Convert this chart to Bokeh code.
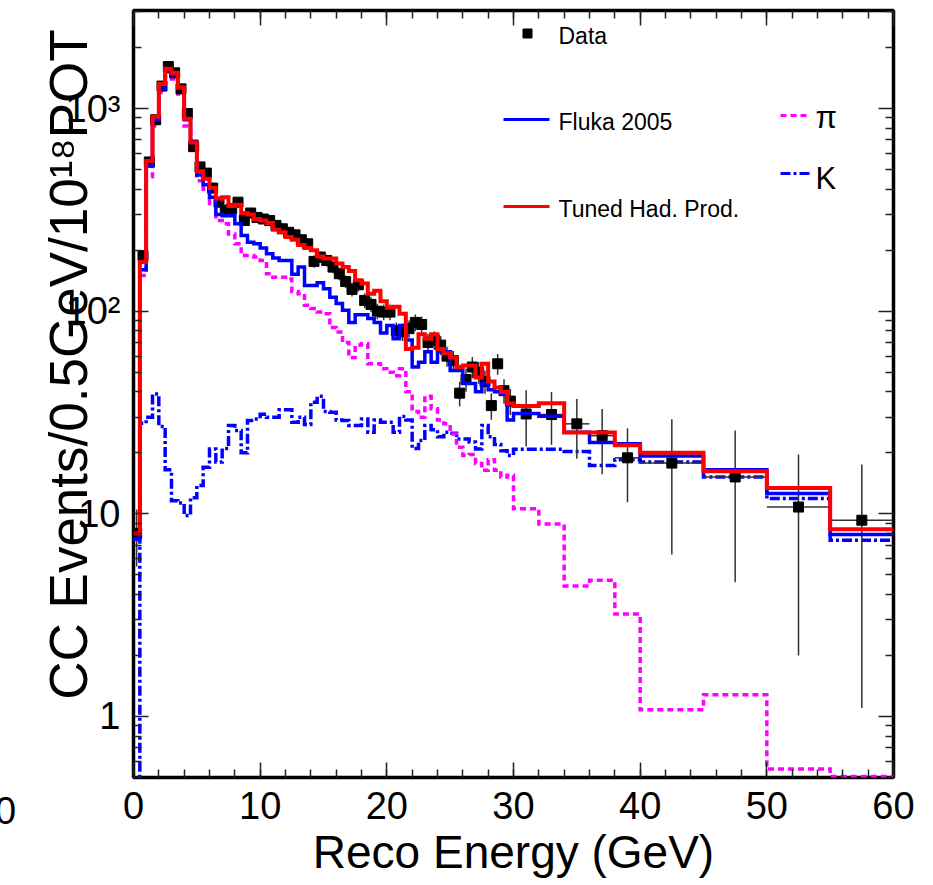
import numpy as np
from bokeh.plotting import figure
from bokeh.models import (LinearAxis, LogAxis, FixedTicker, SingleIntervalTicker,
                          Label, Range1d, CustomJSTickFormatter)
from bokeh.embed import file_html
from bokeh.resources import INLINE

# ---------------- data ----------------
# 0.5 GeV bins up to 30 GeV, then wider bins
edges = list(np.arange(0, 30.0 + 1e-9, 0.5)) + [32, 34, 36, 38, 40, 45, 50, 55, 60]

tuned = [8, 175, 550, 910, 1320, 1570, 1500, 1270, 890, 680,
         490, 450, 405, 360, 365, 330, 335, 305, 300, 285,
         280, 272, 252, 245, 232, 225, 212, 205, 200, 186,
         182, 182, 172, 165, 158, 142, 137, 122, 126, 112,
         104, 105, 97, 65, 66, 77, 73, 77, 65, 62,
         59, 53, 54, 54, 47, 55, 45, 42, 40, 35,
         34, 35.1, 25.2, 25.2, 21.8, 20.0, 16.2, 13.4, 8.4]

fluka = [7.5, 160, 520, 880, 1250, 1520, 1470, 1260, 880, 690,
         470, 420, 365, 300, 296, 296, 270, 236, 219, 215,
         205, 192, 183, 178, 178, 152, 165, 134, 134, 138,
         129, 117, 109, 101, 88, 96, 96, 92, 88, 78,
         85, 73, 85, 72, 53, 56, 63, 56, 63, 63,
         51, 51, 44, 44, 40, 44, 41, 40, 39, 29,
         31.3, 30.3, 25.3, 22.5, 22.2, 19.3, 16.5, 12.6, 7.9]

pion = [7.5, 150, 460, 820, 1200, 1430, 1400, 1180, 820, 620,
        440, 400, 340, 280, 270, 240, 215, 188, 188, 185,
        178, 153, 147, 147, 144, 125, 122, 107, 103, 99,
        97, 83, 79, 70, 59, 68, 69, 55, 55, 52,
        50, 48, 52, 40, 32, 30, 38, 33, 29, 27.8,
        24.8, 21.3, 19.4, 19.6, 17.7, 16.4, 18.5, 16.4, 15.2, 15.5,
        10.6, 8.9, 4.4, 4.7, 3.2, 1.08, 1.28, 0.55, 0.506]

kaon = [0.3, 28, 30, 39, 27, 16.5, 11.6, 11.3, 9.8, 12,
        13.8, 17, 20.9, 18, 21, 27.3, 25.8, 20, 28.9, 29.4,
        31, 30, 30, 32.6, 32.6, 28.3, 30, 27.6, 35.5, 38,
        32, 31.7, 29, 28.9, 27.3, 27.3, 29.4, 25.3, 29, 28.3,
        28.3, 25.3, 30.2, 29, 21, 23, 27.3, 26, 24, 25.3,
        25, 23.4, 23.4, 22.6, 20.9, 27.3, 24, 22, 20.5, 19.4,
        20.8, 20.8, 20.3, 17.3, 18.5, 18.0, 15.2, 11.9, 7.4]

data = [8, 188, 545, 880, 1290, 1610, 1500, 1250, 945, 650,
        515, 480, 405, 345, 315, 320, 345, 280, 305, 290,
        285, 280, 265, 255, 245, 238, 225, 215, 176, 185,
        178, 165, 153, 140, 128, 135, 113, 108, 100, 99,
        99, 80, 79, 82, 88, 86, 70, 72, 68, 60,
        57, 39.4, 46, 53, 50, 45, 34.2, 55, 40.5, 36,
        31.1, 30.9, 27.8, 24.3, 18.9, 17.8, 15.2, 10.8, 9.3]

data_err = [2.5, 12, 20, 26, 32, 35, 34, 31, 27, 22,
            20, 19, 18, 16, 16, 16, 16, 15, 15, 15,
            15, 15, 14, 14, 14, 14, 13, 13, 12, 12,
            12, 11, 11, 10, 10, 10, 9.4, 9.1, 8.8, 8.8,
            8.8, 7.9, 7.8, 8, 8.3, 8.2, 7.4, 7.5, 7.3, 6.8,
            6.6, 5.5, 6, 6.4, 6.2, 5.9, 5.1, 6.5, 5.6, 5.3,
            9.6, 9.0, 9.1, 8.6, 7.5, 11.5, 10.6, 8.8, 8.2]

y_major = [1, 10, 100, 1000]
y_labels = {1: "1", 10: "10", 100: "10²", 1000: "10³"}

# ---------------- figure ----------------
W, H = 933, 885
X0, X1, Y0, Y1 = 133, 893, 10, 777
XMIN, XMAX, YMIN, YMAX = 0, 60, 0.5, 3045
FONT = "Liberation Sans"

p = figure(width=W, height=H, x_range=Range1d(XMIN, XMAX), y_range=Range1d(YMIN, YMAX),
           y_axis_type="log", output_backend="svg", toolbar_location=None,
           min_border_left=X0, min_border_right=W - X1, min_border_top=Y0,
           min_border_bottom=H - Y1)
p.background_fill_color = "white"
p.border_fill_color = "white"
p.outline_line_color = "black"
p.outline_line_width = 3.5
p.grid.visible = False


def dx(px):
    return XMIN + (px - X0) / (X1 - X0) * (XMAX - XMIN)


def dy(py):
    lo, hi = np.log10(YMIN), np.log10(YMAX)
    return 10 ** (hi - (py - Y0) / (Y1 - Y0) * (hi - lo))


minor_y = [m * 10.0 ** k for k in range(-1, 4) for m in range(2, 10)]
minor_y = [v for v in minor_y if YMIN <= v <= YMAX] + [0.5]
blank = CustomJSTickFormatter(code="return ''")


def style(ax):
    ax.axis_line_color = None
    ax.major_tick_in = 15
    ax.major_tick_out = 0
    ax.minor_tick_in = 8
    ax.minor_tick_out = 0
    ax.major_tick_line_color = "#222222"
    ax.minor_tick_line_color = "#222222"
    ax.major_tick_line_width = 1.5
    ax.minor_tick_line_width = 1.5


xb = p.xaxis[0]
xb.ticker = SingleIntervalTicker(interval=10, num_minor_ticks=5)
style(xb)
xb.major_label_text_font = FONT
xb.major_label_text_font_size = "38px"
xb.major_label_text_color = "black"
xb.major_label_standoff = 14
xb.axis_label = "Reco Energy (GeV)"
xb.axis_label_text_font = FONT
xb.axis_label_text_font_size = "46px"
xb.axis_label_text_font_style = "normal"
xb.axis_label_text_color = "black"
xb.axis_label_standoff = 4

yl = p.yaxis[0]
yl.ticker = FixedTicker(ticks=y_major, minor_ticks=minor_y)
style(yl)
yl.major_label_overrides = y_labels
yl.major_label_text_font = FONT
yl.major_label_text_font_size = "38px"
yl.major_label_text_color = "black"
yl.major_label_standoff = 13
# leading no-break spaces lift the title towards the top, as in the reference
yl.axis_label = "\u00a0\u00a0\u00a0\u00a0CC Events/0.5GeV/10¹⁸POT"
yl.axis_label_text_font = FONT
yl.axis_label_text_font_size = "53px"
yl.axis_label_text_font_style = "normal"
yl.axis_label_text_color = "black"
yl.axis_label_standoff = -35

xt = LinearAxis(ticker=SingleIntervalTicker(interval=10, num_minor_ticks=5),
                formatter=blank, major_label_standoff=0)
style(xt)
p.add_layout(xt, "above")

yr = LogAxis(ticker=FixedTicker(ticks=y_major, minor_ticks=minor_y),
             formatter=blank, major_label_standoff=0)
style(yr)
p.add_layout(yr, "right")

# ---------------- histograms ----------------
def close(v):
    return list(v) + [v[-1]]

p.step(x=edges, y=close(kaon), mode="after", line_color="#0000ff", line_width=3.5,
       line_dash="10 3 3 3", line_join="miter")
p.step(x=edges, y=close(pion), mode="after", line_color="#ff00ff", line_width=3.5,
       line_dash="6 4", line_join="miter")

e = np.array(edges, dtype=float)
xc = (e[:-1] + e[1:]) / 2
xh = (e[1:] - e[:-1]) / 2
d = np.array(data, dtype=float)
de = np.array(data_err, dtype=float)
p.segment(x0=xc, y0=d - de, x1=xc, y1=d + de, line_color="#333333", line_width=1.5)
p.segment(x0=xc - xh, y0=d, x1=xc + xh, y1=d, line_color="#333333", line_width=1.5)
p.scatter(x=xc, y=d, marker="square", size=10, fill_color="black", line_color="black")

p.step(x=edges, y=close(fluka), mode="after", line_color="#0000ff", line_width=3.5,
       line_join="miter")
p.step(x=edges, y=close(tuned), mode="after", line_color="#ff0000", line_width=4,
       line_join="miter")

# ---------------- legend ----------------
p.scatter(x=[dx(527)], y=[dy(33)], marker="square", size=9, color="black")
p.line(x=[dx(503), dx(549)], y=[dy(119), dy(119)], line_color="#0000ff", line_width=3)
p.line(x=[dx(503), dx(549)], y=[dy(206), dy(206)], line_color="#ff0000", line_width=3)
p.line(x=[dx(780), dx(807)], y=[dy(115), dy(115)], line_color="#ff00ff", line_width=3,
       line_dash="6 4")
p.line(x=[dx(780), dx(811)], y=[dy(173), dy(173)], line_color="#0000ff", line_width=3,
       line_dash="10 3 3 3")


def lab(px, py, text, size, align="left", baseline="middle", place="center"):
    p.add_layout(Label(x=dx(px), y=dy(py), text=text, text_font=FONT,
                       text_font_size=f"{size}px", text_align=align,
                       text_baseline=baseline, text_color="black"), place)


lab(558, 35, "Data", 23)
lab(558, 121, "Fluka 2005", 23)
lab(558, 208, "Tuned Had. Prod.", 23)
lab(815, 117, "π", 31)
lab(815, 178, "K", 31)

# stray, half-cut tick label at the far left of the reference
lab(5, 810, "0", 38, align="center", place="left")

open("out.html", "w").write(file_html(p, INLINE))
